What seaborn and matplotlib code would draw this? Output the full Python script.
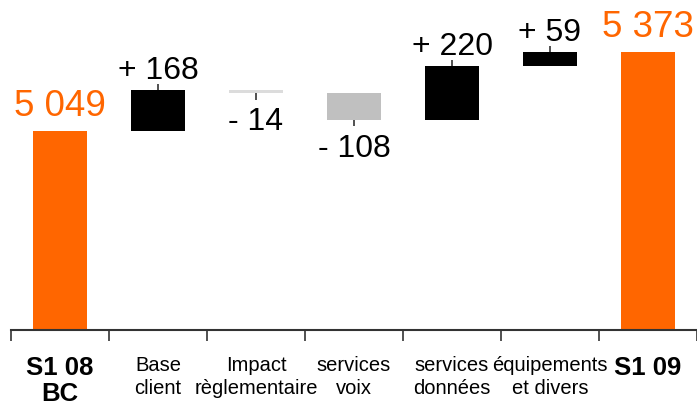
import numpy as np
import pandas as pd
import seaborn as sns
import matplotlib.pyplot as plt

categories = ["S1 08\nBC", "Base\nclient", "Impact\nrèglementaire", "services\nvoix",
              "services\ndonnées", "équipements\net divers", "S1 09"]
values = [5049, 168, -14, -108, 220, 59, 5373]
kinds = ["total", "delta", "delta", "delta", "delta", "delta", "total"]
colors = ["#ff6600", "#000000", "#dcdcdc", "#c0c0c0", "#000000", "#000000", "#ff6600"]


def fmt(v):
    return f"{abs(v):,}".replace(",", " ")


# build waterfall bottoms / heights
bottoms, heights = [], []
running = 0
for v, k in zip(values, kinds):
    if k == "total":
        bottoms.append(0)
        heights.append(v)
        running = v
    else:
        bottoms.append(running if v >= 0 else running + v)
        heights.append(abs(v))
        running += v

df = pd.DataFrame({"category": categories, "height": heights, "bottom": bottoms,
                   "value": values, "kind": kinds, "color": colors})

sns.set_theme(style="white")
plt.rcParams["font.family"] = ["Liberation Sans", "DejaVu Sans"]

fig = plt.figure(figsize=(6.97, 4.08), dpi=100)
ax = fig.add_axes([11 / 697, 78 / 408, 686 / 697, 330 / 408])

sns.barplot(data=df, x="category", y="height", bottom=df["bottom"].values,
            width=0.55, errorbar=None, color="black", ax=ax)
for patch, c in zip(ax.patches, df["color"]):
    patch.set_facecolor(c)
    patch.set_edgecolor("none")

ax.set_xlim(-0.5, 6.5)
ax.set_ylim(4233, 5586)

tick_len = 25
for i, row in df.iterrows():
    top = row["bottom"] + row["height"]
    if row["kind"] == "total":
        ax.annotate(fmt(row["value"]), (i, top), xytext=(0, 11), textcoords="offset points",
                    ha="center", va="baseline", fontsize=26.5, color="#ff6600",
                    annotation_clip=False)
    elif row["value"] >= 0:
        ax.vlines(i, top, top + tick_len, color="#333333", lw=1.2)
        ax.annotate(f"+ {fmt(row['value'])}", (i, top), xytext=(0, 8), textcoords="offset points",
                    ha="center", va="baseline", fontsize=23, color="black")
    else:
        bot = row["bottom"]
        ax.vlines(i, bot - tick_len, bot, color="#333333", lw=1.2)
        ax.annotate(f"- {fmt(row['value'])}", (i, bot), xytext=(0, -10), textcoords="offset points",
                    ha="center", va="top", fontsize=23, color="black")

# boundary ticks, centered labels
ax.set_xticks(np.arange(-0.5, 7, 1))
ax.set_xticklabels([])
ax.set_xticks(np.arange(7), minor=True)
ax.set_xticklabels(df["category"], minor=True)
ax.tick_params(axis="x", which="major", direction="out", length=8, width=1.2,
               color="#333333", bottom=True)
ax.tick_params(axis="x", which="minor", length=0, pad=19, labelsize=14.5,
               labelcolor="black")
for lab, k in zip(ax.get_xticklabels(minor=True), df["kind"]):
    lab.set_linespacing(1.25)
    if k == "total":
        lab.set_fontweight("bold")
        lab.set_fontsize(18.5)
        lab.set_linespacing(1.1)

ax.set_yticks([])
ax.set_xlabel("")
ax.set_ylabel("")
sns.despine(ax=ax, left=True)
ax.spines["bottom"].set_color("#333333")
ax.spines["bottom"].set_linewidth(1.5)

fig.savefig("out.png", dpi=100)
